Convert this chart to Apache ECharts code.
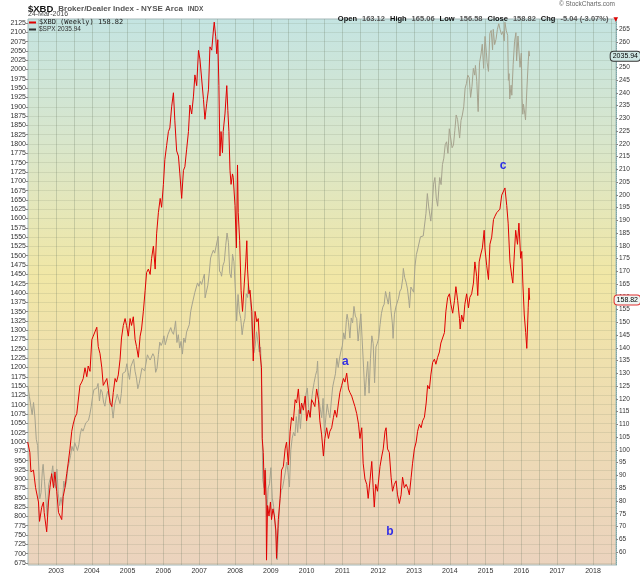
<!DOCTYPE html>
<html><head><meta charset="utf-8">
<script src="https://cdn.jsdelivr.net/npm/echarts@6/dist/echarts.min.js"></script>
<style>html,body{margin:0;padding:0;background:#fff}#c{width:640px;height:576px}</style>
</head><body><div id="c"></div>
<script>
// ---- data ----
const xbdYears = [
2002.21,2002.27,2002.30,2002.37,2002.43,2002.51,2002.54,2002.60,2002.65,2002.67,2002.74,2002.79,2002.83,2002.88,2002.93,2002.97,
2003.02,2003.07,2003.11,2003.16,2003.20,2003.25,2003.30,2003.34,2003.39,2003.44,2003.48,2003.53,2003.58,2003.62,2003.67,2003.72,2003.76,2003.81,2003.86,2003.90,2003.95,
2004.00,2004.04,2004.09,2004.14,2004.18,2004.23,2004.28,2004.32,2004.37,2004.42,2004.46,2004.51,2004.56,2004.60,2004.65,2004.69,2004.74,2004.79,2004.83,2004.88,2004.93,2004.97,
2005.02,2005.07,2005.11,2005.16,2005.21,2005.25,2005.30,2005.35,2005.39,2005.44,2005.49,2005.53,2005.58,2005.63,2005.67,2005.72,2005.77,2005.81,2005.86,2005.91,2005.95,
2006.00,2006.04,2006.09,2006.14,2006.18,2006.23,2006.28,2006.32,2006.37,2006.42,2006.46,2006.51,2006.56,2006.60,2006.65,2006.70,2006.74,2006.79,2006.84,2006.88,2006.93,2006.98,
2007.02,2007.07,2007.12,2007.16,2007.21,2007.26,2007.30,2007.35,2007.40,2007.42,2007.46,2007.49,2007.52,2007.55,2007.58,2007.61,2007.65,2007.67,2007.72,2007.77,2007.80,2007.83,2007.86,2007.89,2007.93,2007.95,
2008.00,2008.04,2008.07,2008.09,2008.13,2008.17,2008.21,2008.26,2008.30,2008.33,2008.35,2008.39,2008.42,2008.47,2008.51,2008.56,2008.61,2008.65,2008.70,2008.74,2008.76,2008.79,2008.82,2008.84,2008.87,2008.88,2008.91,2008.95,2008.99,
2009.02,2009.06,2009.10,2009.14,2009.16,2009.21,2009.26,2009.30,2009.35,2009.40,2009.44,2009.49,2009.54,2009.58,2009.63,2009.68,2009.72,2009.77,2009.82,2009.86,2009.91,2009.96,
2010.00,2010.05,2010.10,2010.14,2010.19,2010.23,2010.28,2010.33,2010.37,2010.42,2010.47,2010.51,2010.56,2010.61,2010.65,2010.70,2010.75,2010.79,2010.84,2010.89,2010.93,2010.98,
2011.03,2011.07,2011.12,2011.17,2011.21,2011.26,2011.31,2011.35,2011.40,2011.45,2011.49,2011.54,2011.58,2011.63,2011.68,2011.72,2011.77,2011.82,2011.86,2011.89,2011.93,2011.98,
2012.05,2012.10,2012.14,2012.19,2012.22,2012.26,2012.31,2012.36,2012.40,2012.45,2012.50,2012.54,2012.59,2012.64,2012.68,2012.73,2012.78,2012.82,2012.87,2012.92,2012.96,
2013.01,2013.06,2013.10,2013.15,2013.20,2013.24,2013.29,2013.34,2013.38,2013.43,2013.47,2013.52,2013.57,2013.61,2013.66,2013.71,2013.75,2013.80,2013.85,2013.89,2013.94,2013.99,
2014.03,2014.08,2014.13,2014.17,2014.22,2014.27,2014.29,2014.33,2014.38,2014.42,2014.47,2014.52,2014.56,2014.61,2014.66,2014.70,2014.75,2014.78,2014.82,2014.86,2014.91,2014.96,2014.98,
2015.03,2015.08,2015.12,2015.17,2015.22,2015.26,2015.31,2015.35,2015.40,2015.45,2015.49,2015.54,2015.59,2015.63,2015.68,2015.73,2015.76,2015.79,2015.84,2015.89,2015.93,2015.98,
2016.01,2016.04,2016.08,2016.12,2016.15,2016.19,2016.21,2016.23
];
const xbdValues = [
103.1,99.0,91.4,92.1,85.2,79.6,72.0,77.5,79.6,75.5,67.9,79.6,85.2,90.7,85.2,91.4,
83.8,75.5,74.8,72.7,81.7,85.2,90.7,94.8,100.4,107.3,110.1,112.8,114.2,114.2,125.3,126.6,128.0,132.2,128.7,132.9,130.8,
143.2,144.6,145.3,148.1,140.5,137.7,132.2,125.3,126.0,128.0,123.9,118.4,117.0,122.5,128.0,126.6,129.4,135.6,143.9,148.8,151.5,148.8,
144.6,151.5,148.8,152.2,143.2,140.5,136.3,144.6,147.4,154.3,162.6,169.5,170.9,168.8,175.1,179.9,170.9,184.7,193.0,198.6,195.1,
204.1,213.8,219.3,224.8,226.2,234.5,240.0,229.0,217.2,215.2,208.2,198.6,209.6,211.0,217.9,224.8,235.2,231.7,238.7,247.0,242.8,256.6,
253.2,252.5,237.3,229.6,235.9,241.4,258.0,256.7,265.0,267.7,262.2,255.3,260.8,242.8,215.2,224.8,216.5,224.8,231.7,242.8,233.1,224.8,209.6,204.1,208.2,206.9,
195.8,179.2,211.7,193.0,182.0,162.6,154.3,165.4,173.7,182.0,170.9,161.2,162.6,154.3,134.9,154.3,150.2,151.5,137.7,132.2,104.5,99.0,82.4,92.1,79.6,56.8,78.2,74.1,79.6,
72.7,76.9,74.1,68.6,57.5,72.7,81.0,92.1,93.5,100.4,103.1,94.1,107.3,112.8,111.4,119.7,118.4,123.9,114.2,118.4,115.6,121.1,
111.4,115.6,112.8,119.7,118.4,117.0,123.9,119.7,111.4,105.9,97.6,104.5,108.7,104.5,107.3,108.7,112.8,115.6,112.8,118.4,122.5,125.3,
128.0,126.6,130.1,123.9,122.5,121.1,121.8,117.0,114.2,110.1,104.5,108.7,94.8,88.6,86.5,81.0,87.9,95.5,85.2,77.6,86.5,83.8,
93.5,97.6,100.4,107.3,108.7,100.4,99.0,89.3,83.8,86.5,87.9,82.4,79.0,82.4,89.3,85.2,86.5,85.2,82.4,89.3,94.8,
100.4,103.1,107.3,110.1,108.7,111.4,112.8,118.4,125.3,123.9,129.4,134.3,135.6,133.6,136.3,138.4,141.9,142.5,146.0,154.3,159.8,161.2,
157.1,153.6,158.5,164.0,158.5,151.5,147.4,152.9,150.2,157.1,161.2,155.7,159.8,161.2,165.4,173.7,168.1,160.5,173.7,176.4,179.2,186.1,179.2,
172.3,166.8,180.6,183.4,190.3,191.6,193.0,192.3,194.4,199.9,200.6,202.7,195.8,188.9,173.7,168.1,165.4,173.7,186.1,180.6,188.9,175.1,
177.8,165.4,152.9,146.0,139.8,155.7,163.5,158.82
];
const spxDates = [
'2002-03-22','2002-04-05','2002-04-19','2002-05-03','2002-05-17','2002-05-31','2002-06-14','2002-06-28','2002-07-12','2002-07-19','2002-08-02','2002-08-16','2002-08-23','2002-09-06','2002-09-20','2002-10-04','2002-10-18','2002-11-01','2002-11-15','2002-11-29','2002-12-13','2002-12-27',
'2003-01-10','2003-01-24','2003-02-07','2003-02-21','2003-03-07','2003-03-21','2003-04-04','2003-04-18','2003-05-02','2003-05-16','2003-05-30','2003-06-13','2003-06-27','2003-07-11','2003-07-25','2003-08-08','2003-08-22','2003-09-05','2003-09-19','2003-10-03','2003-10-17','2003-10-31','2003-11-14','2003-11-28','2003-12-12','2003-12-26',
'2004-01-09','2004-01-23','2004-02-06','2004-02-20','2004-03-05','2004-03-19','2004-04-02','2004-04-16','2004-04-30','2004-05-14','2004-05-28','2004-06-11','2004-06-25','2004-07-09','2004-07-23','2004-08-06','2004-08-20','2004-09-03','2004-09-17','2004-10-01','2004-10-15','2004-10-29','2004-11-12','2004-11-26','2004-12-10','2004-12-24',
'2005-01-07','2005-01-21','2005-02-04','2005-02-18','2005-03-04','2005-03-18','2005-04-01','2005-04-15','2005-04-29','2005-05-13','2005-05-27','2005-06-10','2005-06-24','2005-07-08','2005-07-22','2005-08-05','2005-08-19','2005-09-02','2005-09-16','2005-09-30','2005-10-14','2005-10-28','2005-11-11','2005-11-25','2005-12-09','2005-12-23',
'2006-01-06','2006-01-20','2006-02-03','2006-02-17','2006-03-03','2006-03-17','2006-03-31','2006-04-14','2006-04-28','2006-05-05','2006-05-19','2006-06-02','2006-06-16','2006-06-30','2006-07-14','2006-07-28','2006-08-11','2006-08-25','2006-09-08','2006-09-22','2006-10-06','2006-10-20','2006-11-03','2006-11-17','2006-12-01','2006-12-15','2006-12-29',
'2007-01-12','2007-01-26','2007-02-09','2007-02-23','2007-03-02','2007-03-16','2007-03-30','2007-04-13','2007-04-27','2007-05-11','2007-05-25','2007-06-08','2007-06-22','2007-07-13','2007-07-27','2007-08-10','2007-08-17','2007-08-31','2007-09-14','2007-09-28','2007-10-12','2007-10-26','2007-11-09','2007-11-23','2007-12-07','2007-12-21',
'2008-01-04','2008-01-18','2008-02-01','2008-02-15','2008-02-29','2008-03-14','2008-03-28','2008-04-11','2008-04-25','2008-05-09','2008-05-16','2008-05-30','2008-06-13','2008-06-27','2008-07-11','2008-07-25','2008-08-08','2008-08-22','2008-09-05','2008-09-19','2008-10-03','2008-10-10','2008-10-24','2008-11-07','2008-11-21','2008-12-05','2008-12-19',
'2009-01-02','2009-01-16','2009-01-30','2009-02-13','2009-02-27','2009-03-06','2009-03-20','2009-04-03','2009-04-17','2009-05-01','2009-05-15','2009-05-29','2009-06-12','2009-06-26','2009-07-10','2009-07-24','2009-08-07','2009-08-21','2009-09-04','2009-09-18','2009-10-02','2009-10-16','2009-10-30','2009-11-13','2009-11-27','2009-12-11','2009-12-24',
'2010-01-08','2010-01-22','2010-02-05','2010-02-19','2010-03-05','2010-03-19','2010-04-02','2010-04-16','2010-04-23','2010-05-07','2010-05-21','2010-06-04','2010-06-18','2010-07-02','2010-07-16','2010-07-30','2010-08-13','2010-08-27','2010-09-10','2010-09-24','2010-10-08','2010-10-22','2010-11-05','2010-11-19','2010-12-03','2010-12-17','2010-12-31',
'2011-01-14','2011-01-28','2011-02-11','2011-02-18','2011-03-04','2011-03-18','2011-04-01','2011-04-15','2011-04-29','2011-05-13','2011-05-27','2011-06-10','2011-06-24','2011-07-08','2011-07-22','2011-08-05','2011-08-19','2011-09-02','2011-09-16','2011-09-30','2011-10-14','2011-10-28','2011-11-11','2011-11-25','2011-12-09','2011-12-23',
'2012-01-06','2012-01-20','2012-02-03','2012-02-17','2012-03-02','2012-03-16','2012-03-30','2012-04-13','2012-04-27','2012-05-11','2012-05-25','2012-06-01','2012-06-15','2012-06-29','2012-07-13','2012-07-27','2012-08-10','2012-08-24','2012-09-07','2012-09-14','2012-09-28','2012-10-12','2012-10-26','2012-11-09','2012-11-16','2012-11-30','2012-12-14','2012-12-28',
'2013-01-11','2013-01-25','2013-02-08','2013-02-22','2013-03-08','2013-03-22','2013-04-05','2013-04-19','2013-05-03','2013-05-17','2013-05-31','2013-06-14','2013-06-21','2013-07-05','2013-07-19','2013-08-02','2013-08-16','2013-08-30','2013-09-13','2013-09-20','2013-10-04','2013-10-18','2013-11-01','2013-11-15','2013-11-29','2013-12-13','2013-12-27',
'2014-01-10','2014-01-24','2014-02-07','2014-02-21','2014-03-07','2014-03-21','2014-04-04','2014-04-11','2014-04-25','2014-05-09','2014-05-23','2014-06-06','2014-06-20','2014-07-03','2014-07-18','2014-08-01','2014-08-15','2014-08-29','2014-09-12','2014-09-19','2014-10-03','2014-10-17','2014-10-31','2014-11-14','2014-11-28','2014-12-12','2014-12-26',
'2015-01-09','2015-01-16','2015-01-30','2015-02-13','2015-02-27','2015-03-13','2015-03-20','2015-04-03','2015-04-17','2015-05-01','2015-05-15','2015-05-29','2015-06-12','2015-06-26','2015-07-10','2015-07-17','2015-07-31','2015-08-14','2015-08-21','2015-08-28','2015-09-04','2015-09-18','2015-09-25','2015-10-09','2015-10-23','2015-11-06','2015-11-13','2015-11-27','2015-12-04','2015-12-18','2015-12-31',
'2016-01-08','2016-01-15','2016-01-22','2016-02-05','2016-02-12','2016-02-26','2016-03-11','2016-03-18','2016-03-24'
];
const spxValues = [
1148,1122,1125,1073,1106,1067,1007,990,921,847,864,928,940,893,846,801,885,900,910,936,889,876,
927,861,829,851,829,895,878,893,930,946,964,988,976,998,998,977,993,1021,1036,1029,1039,1051,1050,1058,1074,1095,
1122,1141,1142,1144,1157,1110,1141,1134,1107,1096,1121,1136,1134,1112,1096,1064,1099,1113,1128,1131,1103,1130,1184,1182,1189,1210,
1186,1168,1203,1201,1222,1190,1172,1143,1157,1154,1198,1201,1191,1212,1234,1226,1220,1218,1237,1229,1187,1198,1235,1268,1259,1268,
1285,1261,1264,1289,1287,1307,1295,1289,1311,1325,1267,1288,1252,1270,1236,1279,1267,1295,1299,1315,1350,1368,1364,1401,1397,1427,1418,
1431,1423,1438,1451,1387,1386,1421,1453,1494,1505,1515,1507,1503,1552,1459,1453,1445,1474,1484,1527,1561,1536,1453,1441,1504,1484,
1411,1325,1396,1349,1331,1288,1316,1332,1398,1388,1425,1400,1360,1278,1239,1257,1296,1292,1242,1255,1099,899,877,930,800,876,888,
931,850,826,827,735,683,768,843,870,877,882,919,946,918,879,979,1010,1026,1016,1068,1025,1087,1036,1093,1091,1106,1127,
1145,1092,1066,1109,1139,1160,1179,1192,1217,1111,1088,1065,1117,1023,1065,1102,1079,1065,1110,1148,1166,1183,1225,1200,1225,1244,1258,
1293,1276,1329,1343,1321,1279,1333,1320,1364,1338,1331,1271,1268,1344,1345,1199,1124,1174,1216,1131,1224,1285,1264,1159,1255,1265,
1278,1315,1345,1362,1370,1404,1408,1370,1403,1353,1317,1278,1343,1362,1357,1386,1405,1411,1438,1466,1441,1429,1411,1380,1360,1416,1414,1402,
1472,1503,1518,1516,1551,1556,1553,1555,1614,1667,1631,1626,1593,1632,1692,1710,1655,1633,1688,1710,1691,1745,1762,1798,1806,1775,1841,
1842,1790,1797,1836,1878,1866,1865,1816,1863,1878,1900,1950,1963,1985,1978,1925,1955,2003,1985,2011,1968,1887,2018,2039,2068,2003,2089,
2045,2019,1995,2097,2105,2053,2108,2067,2081,2108,2123,2107,2094,2102,2077,2127,2104,2092,1971,1989,1921,1958,1931,2014,2075,2099,2023,2090,2092,2006,2044,
1922,1880,1907,1880,1865,1948,2022,2050,2036
];
const yearLabels = [2003,2004,2005,2006,2007,2008,2009,2010,2011,2012,2013,2014,2015,2016,2017,2018];
const halfYearLines = [2002.5,2003,2003.5,2004,2004.5,2005,2005.5,2006,2006.5,2007,2007.5,2008,2008.5,2009,2009.5,2010,2010.5,2011,2011.5,2012,2012.5,2013,2013.5,2014,2014.5,2015,2015.5,2016,2016.5,2017,2017.5,2018,2018.5];
const spxTicks = [675,700,725,750,775,800,825,850,875,900,925,950,975,1000,1025,1050,1075,1100,1125,1150,1175,1200,1225,1250,1275,1300,1325,1350,1375,1400,1425,1450,1475,1500,1525,1550,1575,1600,1625,1650,1675,1700,1725,1750,1775,1800,1825,1850,1875,1900,1925,1950,1975,2000,2025,2050,2075,2100,2125];
const xbdTicks = [60,65,70,75,80,85,90,95,100,105,110,115,120,125,130,135,140,145,150,155,160,165,170,175,180,185,190,195,200,205,210,215,220,225,230,235,240,245,250,255,260,265];
const notes = [['a',2011.08,134.7],['b',2012.33,68.1],['c',2015.49,211.4]];
const lastXbd = 158.82, lastSpx = 2035.94;

// ---- build ----
function toYear(s){const d=Date.parse(s+'T00:00:00Z');const y=+s.slice(0,4);const a=Date.UTC(y,0,1),b=Date.UTC(y+1,0,1);return y+(d-a)/(b-a);}
const xbdData = xbdYears.map((t,i)=>[t,xbdValues[i]]);
const spxData = spxDates.map((d,i)=>[toYear(d),spxValues[i]]);
const chart = echarts.init(document.getElementById('c'),null,{renderer:'canvas'});
chart.setOption({
  animation:false,
  backgroundColor:'#ffffff',
  title:[
    {left:28,top:0,padding:0,text:'{a|$XBD} {b|Broker/Dealer Index - NYSE Arca} {c|INDX}',
     textStyle:{rich:{a:{fontSize:9.5,fontWeight:'bold',color:'#111',fontFamily:'Liberation Sans',lineHeight:10},b:{fontSize:8,color:'#555',fontFamily:'Liberation Sans',lineHeight:10},c:{fontSize:6.5,color:'#555',fontFamily:'Liberation Sans',lineHeight:10}}}},
    {left:28,top:11,padding:0,text:'24-Mar-2016',textStyle:{fontSize:7,color:'#444',fontWeight:'normal',fontFamily:'Liberation Sans',lineHeight:7}},
    {right:25,top:1,padding:0,text:'\u00a9 StockCharts.com',textStyle:{fontSize:6.5,color:'#666',fontWeight:'normal',fontFamily:'Liberation Sans'}},
    {right:22,top:10,padding:0,text:'{l|Open} {v|163.12} {l|High} {v|165.06} {l|Low} {v|156.58} {l|Close} {v|158.82} {l|Chg} {v|-5.04 (-3.07%)} {r|\u25bc}',
     textStyle:{rich:{l:{fontSize:7.5,fontWeight:'bold',color:'#111',fontFamily:'Liberation Sans'},v:{fontSize:7.5,color:'#555',fontFamily:'Liberation Sans'},r:{fontSize:6,color:'#d00',fontFamily:'DejaVu Sans'}}}}
  ],
  legend:{left:29,top:19,orient:'vertical',itemGap:0,itemWidth:7,itemHeight:2,padding:0,
    data:[
      {name:'$XBD (Weekly) 158.82',icon:'rect',itemStyle:{color:'#e00000'},textStyle:{fontFamily:'DejaVu Sans Mono',fontSize:7,color:'#222',padding:[0,0,0,-2]}},
      {name:'$SPX 2035.94',icon:'rect',itemStyle:{color:'#333'},textStyle:{fontFamily:'Liberation Sans',fontSize:6.5,color:'#333',padding:[0,0,0,-2]}}
    ]},
  grid:{left:28,right:24,top:19,bottom:11,show:true,borderColor:'#a4b8b8',borderWidth:1,
    backgroundColor:new echarts.graphic.LinearGradient(0,0,0,1,[
      {offset:0,color:'#c4e4e2'},{offset:0.22,color:'#d8e6cc'},{offset:0.47,color:'#f1e7a6'},{offset:0.72,color:'#eedcb2'},{offset:1,color:'#ebd3be'}])},
  xAxis:{type:'value',min:2002.218,max:2018.642,
    axisLine:{show:false},
    axisTick:{show:false,customValues:halfYearLines},
    axisLabel:{customValues:yearLabels,formatter:v=>String(v),fontSize:7,color:'#333',margin:3,fontFamily:'Liberation Sans'},
    splitLine:{show:true,lineStyle:{color:'rgba(105,120,95,0.26)',width:1}}},
  yAxis:[
    {type:'value',position:'left',min:669.6,max:2135.7,
     axisLine:{show:false},
     axisTick:{show:true,customValues:spxTicks,length:2,lineStyle:{color:'#888'}},
     axisLabel:{customValues:spxTicks,formatter:v=>String(v),fontSize:7,color:'#333',margin:2,fontFamily:'Liberation Sans'},
     splitLine:{show:true,lineStyle:{color:'rgba(105,120,95,0.15)',width:1}}},
    {type:'value',position:'right',min:54.9,max:268.92,
     axisLine:{show:true,lineStyle:{color:'#7aa6a6',type:'dotted'}},
     axisTick:{show:true,customValues:xbdTicks,length:2,lineStyle:{color:'#888'}},
     axisLabel:{customValues:xbdTicks,formatter:v=>String(v),fontSize:6.5,color:'#333',margin:3,fontFamily:'Liberation Sans'},
     splitLine:{show:false},
     axisPointer:{show:true,status:'show',value:lastXbd,triggerTooltip:false,lineStyle:{opacity:0},
       label:{show:true,formatter:()=>'158.82',fontSize:7,color:'#000',backgroundColor:'#eef6f4',borderColor:'#e03030',borderWidth:1,padding:[1,2],margin:0,fontFamily:'Liberation Sans'}}},
    {type:'value',position:'right',min:669.6,max:2135.7,
     axisLine:{show:false},axisTick:{show:false},axisLabel:{show:false},splitLine:{show:false},
     axisPointer:{show:true,status:'show',value:lastSpx,triggerTooltip:false,lineStyle:{opacity:0},
       label:{show:true,formatter:()=>'2035.94',fontSize:7,color:'#000',backgroundColor:'#cfe7e4',borderColor:'#333',borderWidth:1,padding:[1,2],margin:0,fontFamily:'Liberation Sans'}}}
  ],
  series:[
    {name:'$SPX 2035.94',type:'line',yAxisIndex:0,data:spxData,symbol:'none',z:2,
     lineStyle:{color:'#a6a38e',width:1},itemStyle:{color:'#333'}},
    {name:'$XBD (Weekly) 158.82',type:'line',yAxisIndex:1,data:xbdData,symbol:'none',z:3,
     lineStyle:{color:'#e00000',width:1},itemStyle:{color:'#e00000'}},
    {name:'notes',type:'scatter',yAxisIndex:1,symbolSize:0,z:4,silent:true,
     data:notes.map(n=>({name:n[0],value:[n[1],n[2]]})),
     label:{show:true,position:'inside',formatter:p=>p.name,fontSize:12,fontWeight:'bold',color:'#0000f0',fontFamily:'Liberation Sans'}}
  ]
});
</script></body></html>
